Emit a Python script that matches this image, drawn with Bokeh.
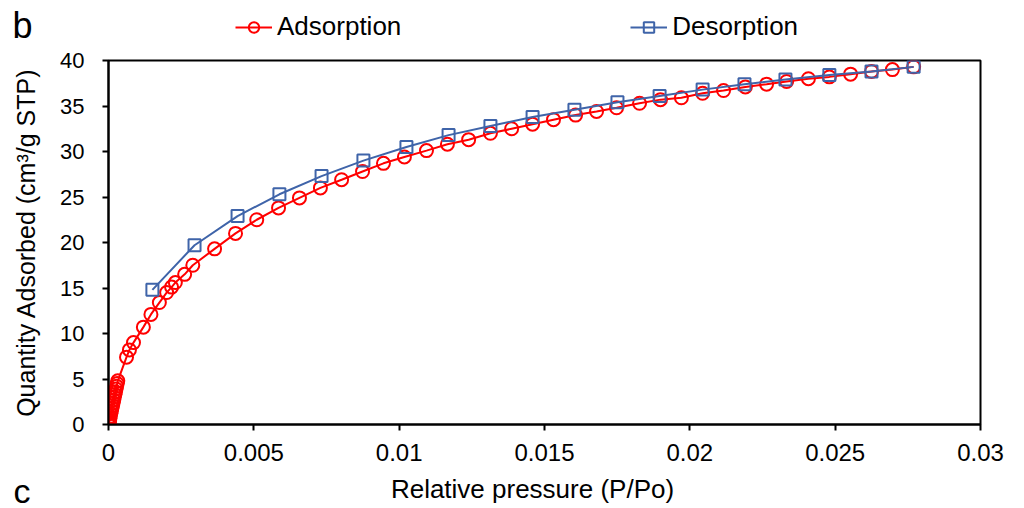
from bokeh.plotting import figure
from bokeh.layouts import column
from bokeh.models import Range1d, FixedTicker, NumeralTickFormatter, Legend, LegendItem, Label, Plot
from bokeh.embed import file_html
from bokeh.resources import INLINE

# Adsorption branch (relative pressure, quantity adsorbed)
ads_p = [0.0, 0.00001, 0.00002, 0.00003, 0.00004, 0.00005, 0.00006, 0.00008, 0.0001, 0.00012,
         0.00014, 0.00016, 0.00018, 0.0002, 0.00022, 0.00024, 0.00026, 0.00028, 0.0003, 0.00032,
         0.00062, 0.00072, 0.00086, 0.0012, 0.00146, 0.00175, 0.002, 0.00217, 0.0023, 0.00262,
         0.0029, 0.00365, 0.00437, 0.0051, 0.00585, 0.00657,
         0.00729, 0.00802, 0.00874, 0.00946, 0.01018, 0.01094, 0.01166, 0.01239, 0.01314, 0.01387,
         0.01459, 0.01531, 0.01607, 0.01679, 0.01748, 0.01827, 0.01899, 0.01971, 0.02044, 0.02116,
         0.02191, 0.02264, 0.02333, 0.02408, 0.0248, 0.02553, 0.02625, 0.02697, 0.0277]
ads_q = [0.0, 0.1, 0.2, 0.35, 0.5, 0.7, 0.9, 1.2, 1.5, 1.8,
         2.1, 2.4, 2.7, 3.0, 3.3, 3.6, 3.9, 4.2, 4.5, 4.8,
         7.4, 8.2, 9.0, 10.7, 12.1, 13.4, 14.5, 15.1, 15.6, 16.5,
         17.5, 19.3, 21.0, 22.5, 23.8, 24.9,
         26.0, 26.9, 27.8, 28.7, 29.4, 30.1, 30.8, 31.3, 32.0, 32.5,
         33.0, 33.5, 34.0, 34.4, 34.8, 35.3, 35.7, 35.9, 36.4, 36.7,
         37.1, 37.4, 37.7, 38.0, 38.2, 38.5, 38.8, 39.0, 39.3]

# Desorption branch
des_p = [0.00151, 0.00296, 0.00444, 0.00588, 0.00733, 0.00877, 0.01025, 0.0117, 0.01314, 0.01459,
         0.01603, 0.01751, 0.01896, 0.02044, 0.02188, 0.02329, 0.0248, 0.02625, 0.0277]
des_q = [14.8, 19.7, 22.9, 25.3, 27.3, 29.0, 30.5, 31.8, 32.8, 33.8,
         34.6, 35.4, 36.1, 36.8, 37.4, 37.9, 38.4, 38.8, 39.3]

x_ticks = [0, 0.005, 0.01, 0.015, 0.02, 0.025, 0.03]
y_ticks = [0, 5, 10, 15, 20, 25, 30, 35, 40]
series_names = ["Adsorption", "Desorption"]
x_title = "Relative pressure (P/Po)"
y_title = "Quantity Adsorbed (cm³/g STP)"

FONT = "Liberation Sans"
RED = "#FF0000"
BLUE = "#3F64A9"
W = 1024
TOP_H, MAIN_H, BOT_H = 44, 428, 36

# keep each figure's frame independent inside the column layout
ALIGN_KW = {"frame_align": False} if "frame_align" in Plot.properties() else {}


def strip(h):
    f = figure(width=W, height=h, output_backend="svg", toolbar_location=None,
               x_range=Range1d(0, W), y_range=Range1d(0, h),
               x_axis_type=None, y_axis_type=None, min_border=0, **ALIGN_KW)
    f.grid.visible = False
    f.outline_line_color = None
    f.background_fill_color = "white"
    f.border_fill_color = "white"
    return f


# ---------------- main plot ----------------
p = figure(width=W, height=MAIN_H, output_backend="svg", toolbar_location=None,
           x_range=Range1d(0, 0.03), y_range=Range1d(0, 40),
           min_border_left=108, min_border_right=44, min_border_top=16, min_border_bottom=48,
           **ALIGN_KW)

p.grid.visible = False
p.outline_line_color = "black"
p.outline_line_width = 2
p.background_fill_color = "white"
p.border_fill_color = "white"

p.xaxis.ticker = FixedTicker(ticks=x_ticks)
p.yaxis.ticker = FixedTicker(ticks=y_ticks)
p.xaxis.formatter = NumeralTickFormatter(format="0.[000]")

for ax in (p.xaxis, p.yaxis):
    ax.axis_line_color = "black"
    ax.axis_line_width = 2
    ax.major_tick_line_color = "black"
    ax.major_tick_line_width = 2
    ax.major_tick_in = 0
    ax.major_tick_out = 6
    ax.minor_tick_line_color = None
    ax.major_label_text_font = FONT
    ax.major_label_text_color = "black"
    ax.axis_label_text_font = FONT
    ax.axis_label_text_font_style = "normal"
    ax.axis_label_text_color = "black"

p.xaxis.major_label_text_font_size = "24px"
p.yaxis.major_label_text_font_size = "22px"
p.yaxis.axis_label_text_font_size = "25px"
p.xaxis.major_label_standoff = 13
p.yaxis.major_label_standoff = 18
p.yaxis.axis_label_standoff = 17
p.yaxis.axis_label = y_title

styles = [dict(color=RED, marker="circle", size=13), dict(color=BLUE, marker="square", size=12)]


def add_series(fig, xs, ys, st):
    ln = fig.line(xs, ys, line_color=st["color"], line_width=2)
    sc = fig.scatter(xs, ys, marker=st["marker"], size=st["size"], line_color=st["color"],
                     line_width=2, fill_color=None)
    return ln, sc


add_series(p, ads_p, ads_q, styles[0])
add_series(p, des_p, des_q, styles[1])

# ---------------- top strip: panel letter + legend ----------------
top = strip(TOP_H)
items = []
for name, st, xs, ys in zip(series_names, styles, [ads_p, des_p], [ads_q, des_q]):
    # hidden copies of the series, used only as legend swatches
    ln, sc = add_series(top, xs, ys, st)
    ln.visible = False
    sc.visible = False
    items.append(LegendItem(label=name, renderers=[ln, sc]))
legend = Legend(items=items, orientation="horizontal", location=(235, 2), spacing=229,
                glyph_width=37, glyph_height=26, label_height=26, label_standoff=5,
                padding=0, margin=0, border_line_color=None, background_fill_alpha=0,
                inactive_fill_alpha=0,
                label_text_font=FONT, label_text_font_size="26px", label_text_color="black")
top.add_layout(legend)
top.add_layout(Label(x=12, y=19.5, text="b", text_font=FONT, text_font_size="36px",
                     text_color="black", text_baseline="middle"))

# ---------------- bottom strip: x title + next panel letter ----------------
bot = strip(BOT_H)
bot.add_layout(Label(x=532, y=20, text=x_title, text_font=FONT, text_font_size="26px",
                     text_color="black", text_align="center", text_baseline="middle"))
bot.add_layout(Label(x=13, y=18, text="c", text_font=FONT, text_font_size="34px",
                     text_color="black", text_baseline="middle"))

layout = column(top, p, bot, spacing=0)
open("out.html", "w").write(file_html(layout, INLINE))
